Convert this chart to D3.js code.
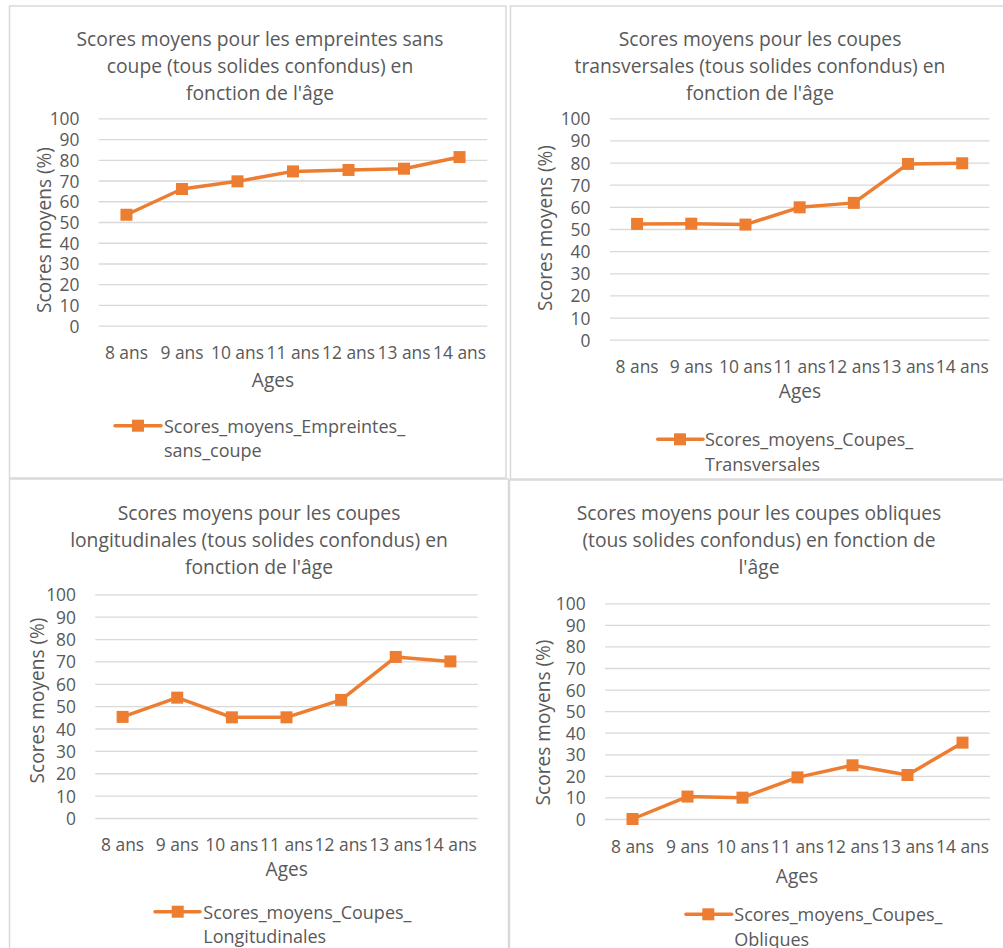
<!DOCTYPE html>
<html>
<head>
<meta charset="utf-8">
<script src="https://cdn.jsdelivr.net/npm/d3@7"></script>
<style>
  body { margin: 0; background: #fff; }
  svg text { font-family: 'Open Sans', 'Noto Sans', sans-serif; fill: #595959; }
</style>
</head>
<body>
<script>
// Ages on the x axis, shared by the four charts
var ages = ['8 ans', '9 ans', '10 ans', '11 ans', '12 ans', '13 ans', '14 ans']
var yTicks = [0, 10, 20, 30, 40, 50, 60, 70, 80, 90, 100]

// Scores moyens (%)
var scoresEmpreintes = [53.5, 65.9, 69.6, 74.4, 75.1, 75.7, 81.3]
var scoresTransversales = [52.3, 52.4, 52.0, 59.8, 61.8, 79.4, 79.7]
var scoresLongitudinales = [45.2, 53.8, 45.0, 45.0, 52.8, 72.0, 70.0]
var scoresObliques = [0, 10.4, 9.9, 19.3, 24.9, 20.4, 35.4]

var titles = [
    ['Scores moyens pour les empreintes sans', 'coupe (tous solides confondus) en', "fonction de l'âge"],
    ['Scores moyens pour les coupes', 'transversales (tous solides confondus) en', "fonction de l'âge"],
    ['Scores moyens pour les coupes', 'longitudinales (tous solides confondus) en', "fonction de l'âge"],
    ['Scores moyens pour les coupes obliques', '(tous solides confondus) en fonction de', "l'âge"]
]
var legendLabels = [
    ['Scores_moyens_Empreintes_', 'sans_coupe'],
    ['Scores_moyens_Coupes_', 'Transversales'],
    ['Scores_moyens_Coupes_', 'Longitudinales'],
    ['Scores_moyens_Coupes_', 'Obliques']
]
var series = [scoresEmpreintes, scoresTransversales, scoresLongitudinales, scoresObliques]

var ORANGE = '#ED7D31'
var GRID = '#D9D9D9'
var TITLE_FONT = '19.3px'
var AXIS_TITLE_FONT = '19.1px'
var TICK_FONT = '17.4px'
var LEGEND_FONT = '18px'

var layouts = [
    { box: [9.5, 6, 506, 478], plot: [98.7, 487.3, 118.3, 325.7], titleX: 260, titleY: 37.5, tickY: 352, tickRight: 79.5,
      yTitle: [43.5, 230], xTitle: [273, 380], legend: [115, 161, 138, 164, 425.7] },
    { box: [510.5, 6, 1012, 479], plot: [610, 989.3, 118.3, 339.7], titleX: 760, titleY: 37.5, tickY: 366, tickRight: 590.5,
      yTitle: [545, 228], xTitle: [800, 391], legend: [657.7, 703, 680, 705, 439.3] },
    { box: [9.5, 479, 508.5, 960], plot: [95.3, 477.7, 594.3, 818], titleX: 259, titleY: 511.7, tickY: 844, tickRight: 76,
      yTitle: [36.7, 700.5], xTitle: [286.7, 869], legend: [155, 200, 177.7, 203.3, 911.7] },
    { box: [509.5, 480, 1012, 960], plot: [605, 990, 603.3, 819], titleX: 759, titleY: 511.7, tickY: 846, tickRight: 585.7,
      yTitle: [543.3, 722.5], xTitle: [797, 876], legend: [686, 731.7, 708.3, 734.3, 914.3] }
]

var svg = d3.select('body').append('svg')
    .attr('width', 1003)
    .attr('height', 948)

function drawPanel(i) {
    var L = layouts[i]
    var values = series[i]
    var g = svg.append('g')

    g.append('rect')
        .attr('x', L.box[0]).attr('y', L.box[1])
        .attr('width', L.box[2] - L.box[0]).attr('height', L.box[3] - L.box[1])
        .attr('fill', 'none').attr('stroke', GRID).attr('stroke-width', 1.5)

    var x = d3.scaleBand().domain(ages).range([L.plot[0], L.plot[1]])
    var y = d3.scaleLinear().domain([0, 100]).range([L.plot[3], L.plot[2]])

    // gridlines
    var yAxis = d3.axisLeft(y).tickValues(yTicks).tickSize(L.plot[0] - L.plot[1]).tickFormat('')
    g.append('g').attr('transform', 'translate(' + L.plot[0] + ',0)').call(yAxis)
        .call(a => a.select('.domain').remove())
        .selectAll('line').attr('stroke', GRID).attr('stroke-width', 1.3)

    // y tick labels
    g.selectAll('.ytick').data(yTicks).enter().append('text')
        .attr('x', L.tickRight).attr('y', d => y(d))
        .attr('text-anchor', 'end').attr('dominant-baseline', 'central')
        .style('font-size', TICK_FONT)
        .text(d => d)

    // x tick labels
    g.selectAll('.xtick').data(ages).enter().append('text')
        .attr('x', d => x(d) + x.bandwidth() / 2).attr('y', L.tickY)
        .attr('text-anchor', 'middle').attr('dominant-baseline', 'central')
        .style('font-size', TICK_FONT)
        .text(d => d)

    // title
    g.append('text')
        .attr('x', L.titleX).attr('y', L.titleY)
        .attr('text-anchor', 'middle').attr('dominant-baseline', 'central')
        .style('font-size', TITLE_FONT)
        .selectAll('tspan').data(titles[i]).enter().append('tspan')
            .attr('x', L.titleX).attr('dy', (d, k) => k == 0 ? 0 : 27.2)
            .text(d => d)

    // axis titles
    g.append('text')
        .attr('transform', 'translate(' + L.yTitle[0] + ',' + L.yTitle[1] + ') rotate(-90)')
        .attr('text-anchor', 'middle').attr('dominant-baseline', 'central')
        .style('font-size', AXIS_TITLE_FONT)
        .text('Scores moyens (%)')
    g.append('text')
        .attr('x', L.xTitle[0]).attr('y', L.xTitle[1])
        .attr('text-anchor', 'middle').attr('dominant-baseline', 'central')
        .style('font-size', AXIS_TITLE_FONT)
        .text('Ages')

    // the line and its markers
    var line = d3.line()
        .x((d, k) => x(ages[k]) + x.bandwidth() / 2)
        .y(d => y(d))
    g.append('path').datum(values)
        .attr('d', line)
        .attr('fill', 'none').attr('stroke', ORANGE).attr('stroke-width', 3.5)
        .attr('stroke-linejoin', 'round')
    g.selectAll('.marker').data(values).enter().append('rect')
        .attr('x', (d, k) => x(ages[k]) + x.bandwidth() / 2 - 6)
        .attr('y', d => y(d) - 6)
        .attr('width', 12).attr('height', 12)
        .attr('fill', ORANGE)

    // legend
    var lg = L.legend
    g.append('line')
        .attr('x1', lg[0]).attr('x2', lg[1]).attr('y1', lg[4]).attr('y2', lg[4])
        .attr('stroke', ORANGE).attr('stroke-width', 3.5).attr('stroke-linecap', 'round')
    g.append('rect')
        .attr('x', lg[2] - 6).attr('y', lg[4] - 6).attr('width', 12).attr('height', 12)
        .attr('fill', ORANGE)
    g.append('text')
        .attr('x', lg[3]).attr('y', lg[4])
        .attr('dominant-baseline', 'central')
        .style('font-size', LEGEND_FONT)
        .selectAll('tspan').data(legendLabels[i]).enter().append('tspan')
            .attr('x', lg[3]).attr('dy', (d, k) => k == 0 ? 0 : 24.5)
            .text(d => d)
}

for (var i = 0; i < 4; i++) { drawPanel(i) }
</script>
</body>
</html>
